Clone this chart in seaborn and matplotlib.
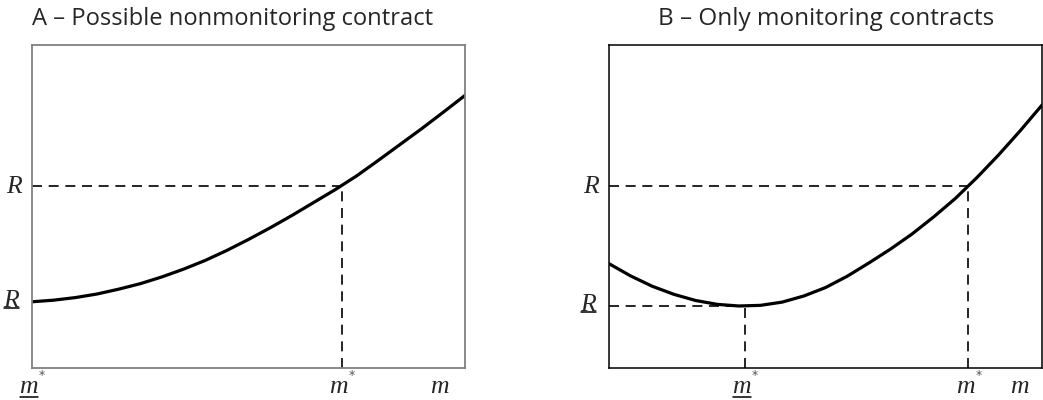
import matplotlib
matplotlib.use("Agg")
import matplotlib.pyplot as plt
from matplotlib.lines import Line2D
import seaborn as sns
import pandas as pd

# ---- data ----
m_grid = [0, 0.5, 1, 1.5, 2, 2.5, 3, 3.5, 4, 4.5, 5,
          5.5, 6, 6.5, 7, 7.5, 8, 8.5, 9, 9.5, 10]
curve_a = [2.05, 2.10, 2.18, 2.29, 2.44, 2.61, 2.82, 3.06, 3.33, 3.64, 3.98,
           4.34, 4.72, 5.12, 5.52, 5.95, 6.43, 6.92, 7.41, 7.92, 8.44]
curve_b = [3.23, 2.85, 2.53, 2.28, 2.09, 1.97, 1.92, 1.94, 2.04, 2.23, 2.49,
           2.84, 3.25, 3.68, 4.15, 4.68, 5.25, 5.90, 6.60, 7.35, 8.14]

a_R, a_Rlow, a_mstar = 5.63, 2.05, 7.15
b_R, b_Rlow, b_mstar, b_mlow = 5.63, 1.93, 8.30, 3.14
m_label_pos = [9.42, 9.49]

titles = ["A – Possible nonmonitoring contract", "B – Only monitoring contracts"]

sns.set_theme(style="white")
plt.rcParams["font.family"] = ["Open Sans", "DejaVu Sans"]
plt.rcParams["mathtext.fontset"] = "custom"
plt.rcParams["mathtext.it"] = "Liberation Serif:italic"
plt.rcParams["mathtext.rm"] = "Liberation Serif"
plt.rcParams["mathtext.default"] = "it"

W, H = 1043, 400
fig = plt.figure(figsize=(W / 100, H / 100), dpi=100)
axA = fig.add_axes([32 / W, (H - 368) / H, 433 / W, 323 / H])
axB = fig.add_axes([609 / W, (H - 368) / H, 433 / W, 323 / H])

dash = dict(color="black", lw=1.2, ls=(0, (6, 4)))
lab_fs = 18.5

for ax, y, col, lw_sp in [(axA, curve_a, "#808080", 1.3), (axB, curve_b, "black", 1.1)]:
    df = pd.DataFrame({"m": m_grid, "R": y})
    sns.lineplot(data=df, x="m", y="R", ax=ax, color="black", lw=2.3)
    ax.set_xlim(0, 10)
    ax.set_ylim(0, 10)
    ax.set_xlabel("")
    ax.set_ylabel("")
    ax.set_xticks([])
    ax.set_yticks([])
    for s in ax.spines.values():
        s.set_color(col)
        s.set_linewidth(lw_sp)

# dashed guides
axA.plot([0, a_mstar], [a_R, a_R], **dash)
axA.plot([a_mstar, a_mstar], [0, a_R], **dash)
axB.plot([0, b_mstar], [b_R, b_R], **dash)
axB.plot([b_mstar, b_mstar], [0, b_R], **dash)
axB.plot([0, b_mlow], [b_Rlow, b_Rlow], **dash)
axB.plot([b_mlow, b_mlow], [0, b_Rlow], **dash)

underline = []


def xlab(ax, xv, star=True, under=False):
    t = ax.annotate(r"$m$", xy=(xv, 0), xycoords=("data", "axes fraction"),
                    xytext=(-3, -25), textcoords="offset pixels",
                    ha="center", va="baseline", fontsize=lab_fs)
    if star:
        ax.annotate("*", xy=(xv, 0), xycoords=("data", "axes fraction"),
                    xytext=(10, -7), textcoords="offset pixels",
                    ha="center", va="center", fontsize=9, color="#555555",
                    family="DejaVu Sans")
    if under:
        underline.append((t, 4))


def ylab(ax, yv, under=False):
    dx, dy = (-12, -5) if under else (-9, -7)
    t = ax.annotate(r"$R$", xy=(0, yv), xycoords=("axes fraction", "data"),
                    xytext=(dx, dy), textcoords="offset pixels",
                    ha="right", va="baseline", fontsize=lab_fs)
    if under:
        underline.append((t, 3))


xlab(axA, 0, under=True)
xlab(axA, a_mstar)
xlab(axA, m_label_pos[0] + 3 / 43.3, star=False)
ylab(axA, a_R)
ylab(axA, a_Rlow, under=True)

xlab(axB, b_mlow, under=True)
xlab(axB, b_mstar)
xlab(axB, m_label_pos[1] + 3 / 43.3, star=False)
ylab(axB, b_R)
ylab(axB, b_Rlow, under=True)

tA = fig.text(32 / W, 1 - 25 / H, titles[0], fontsize=16, ha="left", va="baseline")
tB = fig.text(658 / W, 1 - 25 / H, titles[1], fontsize=16, ha="left", va="baseline")

fig.canvas.draw()
r = fig.canvas.get_renderer()
for t, target in [(tA, 401), (tB, 335)]:
    w = t.get_window_extent(r).width
    t.set_fontsize(16 * target / w)

fig.canvas.draw()
for t, gap in underline:
    bb = t.get_window_extent(r)
    # baseline position in pixels (from bottom)
    x_disp, y_disp = t.get_transform().transform(t.xy)
    off = t.get_position()
    base = y_disp + off[1] * 1.0
    yline = base - gap
    fig.add_artist(Line2D([(bb.x0 + 1) / W, (bb.x1 - 1) / W],
                          [yline / H, yline / H], color="black", lw=1.1))

fig.savefig("out.png", dpi=100)
